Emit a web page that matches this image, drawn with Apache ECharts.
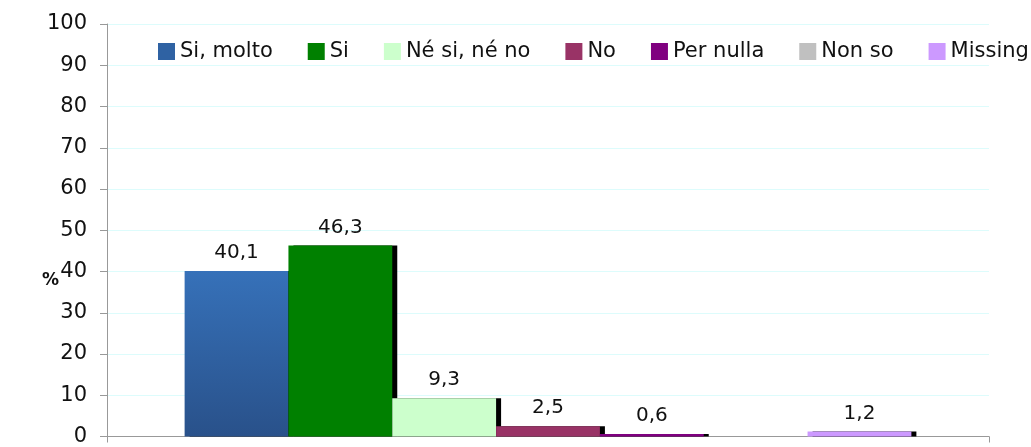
<!DOCTYPE html>
<html>
<head>
<meta charset="utf-8">
<script src="https://cdn.jsdelivr.net/npm/echarts@6/dist/echarts.min.js"></script>
<style>
  html, body { margin: 0; padding: 0; background: #fff; }
  #chartContainer { width: 1031px; height: 447px; }
</style>
</head>
<body>
<div id="chartContainer"></div>
<script>
// answer categories (one bar each)
var seriesNames = ['Si, molto', 'Si', 'Né si, né no', 'No', 'Per nulla', 'Non so', 'Missing'];
var seriesValues = [40.1, 46.3, 9.3, 2.5, 0.6, 0, 1.2];
var seriesColors = [
  new echarts.graphic.LinearGradient(0, 0, 0, 1, [
    { offset: 0, color: '#3671b9' },
    { offset: 1, color: '#29518a' }
  ]),
  '#008000', '#ccffcc', '#993366', '#800080', '#c0c0c0', '#cc99ff'
];
var legendColors = ['#2f62a3', '#008000', '#ccffcc', '#993366', '#800080', '#c0c0c0', '#cc99ff'];
var yTicks = { min: 0, max: 100, interval: 10 };

var FONT = 'DejaVu Sans';

var chartDom = document.getElementById('chartContainer');
var myChart = echarts.init(chartDom);

var series = seriesNames.map(function (name, i) {
  return {
    name: name,
    type: 'bar',
    data: [seriesValues[i]],
    barGap: '0%',
    barCategoryGap: '17.6%',
    itemStyle: {
      color: seriesColors[i],
      shadowColor: '#000',
      shadowOffsetX: 5,
      shadowOffsetY: 0,
      shadowBlur: 0
    },
    label: {
      show: seriesValues[i] > 0,
      position: 'top',
      distance: 8,
      fontFamily: FONT,
      fontSize: 20,
      color: '#111',
      formatter: function (p) { return p.value.toFixed(1).replace('.', ','); }
    }
  };
});

var option = {
  animation: false,
  textStyle: { fontFamily: FONT },
  title: {
    text: '%',
    left: 37,
    top: 267,
    textStyle: { fontFamily: FONT, fontSize: 17, fontWeight: 'bold', color: '#111' }
  },
  legend: {
    data: seriesNames.map(function (n, i) {
      return { name: n, itemStyle: { color: legendColors[i], shadowBlur: 0, shadowOffsetX: 0, shadowOffsetY: 0 } };
    }),
    left: 153,
    top: 36,
    width: 1000,
    itemWidth: 17,
    itemHeight: 17,
    itemGap: 35,
    icon: 'rect',
    textStyle: { fontFamily: FONT, fontSize: 21, color: '#111' }
  },
  grid: { left: 107, right: 42, top: 24, bottom: 4 },
  xAxis: {
    type: 'category',
    data: [''],
    axisLine: { lineStyle: { color: '#999' } },
    axisTick: { show: true, length: 6, lineStyle: { color: '#999' } },
    axisLabel: { show: false }
  },
  yAxis: {
    type: 'value',
    min: yTicks.min,
    max: yTicks.max,
    interval: yTicks.interval,
    axisLine: { show: true, lineStyle: { color: '#999' } },
    axisTick: { show: true, length: 7, lineStyle: { color: '#999' } },
    axisLabel: { fontFamily: FONT, fontSize: 21, color: '#111', margin: 20 },
    splitLine: { lineStyle: { color: '#ddfcfc' } }
  },
  series: series
};

myChart.setOption(option);
</script>
</body>
</html>
